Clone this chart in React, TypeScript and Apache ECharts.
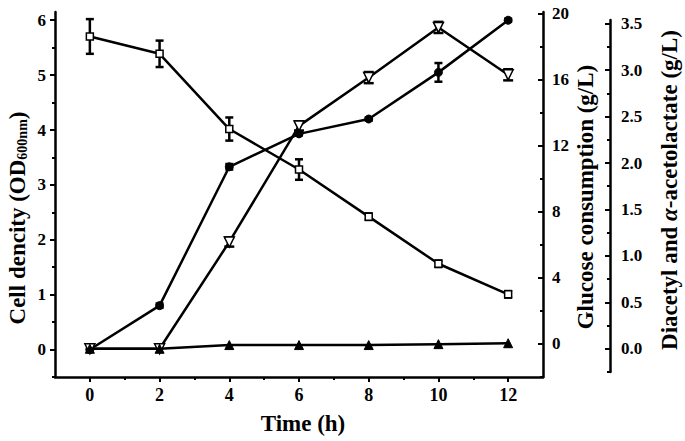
import React, { useEffect, useRef } from "react";
import * as echarts from "echarts";

const times = [0, 2, 4, 6, 8, 10, 12];
const cellDensity = [0, 0.8, 3.33, 3.93, 4.2, 5.05, 6.0];
const cellDensityErr = [0.02, 0.04, 0.05, 0.03, 0.03, 0.17, 0.03];
const glucose = [18.6, 17.55, 13.0, 10.55, 7.7, 4.85, 3.0];
const glucoseErr = [1.05, 0.8, 0.7, 0.62, 0.2, 0.2, 0.2];
const acetolactate = [0, 0, 1.15, 2.4, 2.92, 3.46, 2.95];
const acetolactateErr = [0, 0, 0.05, 0.05, 0.06, 0.06, 0.06];
const diacetyl = [0, 0, 0.04, 0.04, 0.04, 0.05, 0.06];

const xTicks = [0, 2, 4, 6, 8, 10, 12];
const xMinorTicks = [1, 3, 5, 7, 9, 11];
const odTicks = [0, 1, 2, 3, 4, 5, 6];
const odMinorTicks = [-0.5, 0.5, 1.5, 2.5, 3.5, 4.5, 5.5];
const glucoseTicks = [0, 4, 8, 12, 16, 20];
const glucoseMinorTicks = [-2, 2, 6, 10, 14, 18];
const dTicks = [0, 0.5, 1, 1.5, 2, 2.5, 3, 3.5];
const dMinorTicks = [-0.25, 0.25, 0.75, 1.25, 1.75, 2.25, 2.75, 3.25];

const FONT = "Liberation Serif";
const BLACK = "#000";

const lineSt = { color: BLACK, width: 2.5 };
const tickSt = { color: BLACK, width: 2 };

function labelSt(size: number, margin: number, values: number[], fmt?: (v: number) => string) {
  return {
    show: true,
    customValues: values,
    margin,
    color: BLACK,
    fontFamily: FONT,
    fontWeight: "bold",
    fontSize: size,
    formatter: fmt ? (v: number) => fmt(v) : (v: number) => String(v),
  };
}

function mainAxis(extra: any, ticks: number[], inside: boolean, label: any) {
  return {
    type: "value",
    axisLine: { show: true, onZero: false, lineStyle: lineSt },
    axisTick: { show: true, inside, length: 5, lineStyle: tickSt, customValues: ticks },
    axisLabel: label,
    splitLine: { show: false },
    ...extra,
  };
}

function minorAxis(extra: any, ticks: number[], inside: boolean) {
  return {
    type: "value",
    axisLine: { show: false, onZero: false },
    axisTick: { show: true, inside, length: 3, lineStyle: tickSt, customValues: ticks },
    axisLabel: { show: false },
    splitLine: { show: false },
    ...extra,
  };
}

function errorRender(cap: number) {
  return (params: any, api: any) => {
    const x = api.value(0);
    const y = api.value(1);
    const e = api.value(2);
    if (!e) return null;
    const hi = api.coord([x, y + e]);
    const lo = api.coord([x, y - e]);
    const st = { stroke: BLACK, lineWidth: 2.5 };
    return {
      type: "group",
      children: [
        { type: "line", shape: { x1: hi[0], y1: hi[1], x2: lo[0], y2: lo[1] }, style: st },
        { type: "line", shape: { x1: hi[0] - cap / 2, y1: hi[1], x2: hi[0] + cap / 2, y2: hi[1] }, style: st },
        { type: "line", shape: { x1: lo[0] - cap / 2, y1: lo[1], x2: lo[0] + cap / 2, y2: lo[1] }, style: st },
      ],
    };
  };
}

const pairs = (vals: number[]) => times.map((t, i) => [t, vals[i]]);
const triples = (vals: number[], errs: number[]) => times.map((t, i) => [t, vals[i], errs[i]]);

export default function App() {
  const ref = useRef<HTMLDivElement>(null);
  useEffect(() => {
    if (!ref.current) return;
    const chart = echarts.init(ref.current, null, { renderer: "svg" });
    const lineStyle = { color: BLACK, width: 2.5 };
    chart.setOption({
      animation: false,
      backgroundColor: "#fff",
      grid: [
        { left: 55, right: 142, top: 12, bottom: 64 },
        { left: 55, right: 142, top: 20, bottom: 69 },
      ],
      xAxis: [
        mainAxis({ gridIndex: 0, min: -1, max: 13, position: "bottom" }, xTicks, false, labelSt(18, 9, xTicks)),
        minorAxis({ gridIndex: 0, min: -1, max: 13, position: "bottom" }, xMinorTicks, false),
        { type: "value", gridIndex: 1, min: -1, max: 13, show: false },
      ],
      yAxis: [
        mainAxis({ gridIndex: 0, min: -0.5, max: 6.15, position: "left" }, odTicks, false, labelSt(17, 9, odTicks)),
        minorAxis({ gridIndex: 0, min: -0.5, max: 6.15, position: "left" }, odMinorTicks, false),
        mainAxis({ gridIndex: 0, min: -2, max: 20.08, position: "right" }, glucoseTicks, true, labelSt(17, 9, glucoseTicks)),
        minorAxis({ gridIndex: 0, min: -2, max: 20.08, position: "right" }, glucoseMinorTicks, true),
        mainAxis({ gridIndex: 1, min: -0.25, max: 3.54, position: "right", offset: 67 }, dTicks, true,
          labelSt(17, 11, dTicks, (v) => v.toFixed(1))),
        minorAxis({ gridIndex: 1, min: -0.25, max: 3.54, position: "right", offset: 67 }, dMinorTicks, true),
      ],
      series: [
        { type: "custom", xAxisIndex: 0, yAxisIndex: 2, renderItem: errorRender(8), data: triples(glucose, glucoseErr), z: 2 },
        { type: "custom", xAxisIndex: 0, yAxisIndex: 0, renderItem: errorRender(8), data: triples(cellDensity, cellDensityErr), z: 2 },
        { type: "custom", xAxisIndex: 2, yAxisIndex: 4, renderItem: errorRender(10), data: triples(acetolactate, acetolactateErr), z: 2 },
        {
          type: "line", name: "Glucose", xAxisIndex: 0, yAxisIndex: 2, data: pairs(glucose),
          symbol: "rect", symbolSize: 7, showAllSymbol: true,
          itemStyle: { color: "#fff", borderColor: BLACK, borderWidth: 1.5 }, lineStyle, z: 3,
        },
        {
          type: "line", name: "Cell density", xAxisIndex: 0, yAxisIndex: 0, data: pairs(cellDensity),
          symbol: "circle", symbolSize: 8, showAllSymbol: true,
          itemStyle: { color: BLACK, borderColor: BLACK, borderWidth: 1 }, lineStyle, z: 3,
        },
        {
          type: "line", name: "α-acetolactate", xAxisIndex: 2, yAxisIndex: 4, data: pairs(acetolactate),
          symbol: "triangle", symbolRotate: 180, symbolSize: 10, showAllSymbol: true,
          itemStyle: { color: "#fff", borderColor: BLACK, borderWidth: 1.5 }, lineStyle, z: 3,
        },
        {
          type: "line", name: "Diacetyl", xAxisIndex: 2, yAxisIndex: 4, data: pairs(diacetyl),
          symbol: "triangle", symbolSize: 9, showAllSymbol: true,
          itemStyle: { color: BLACK, borderColor: BLACK, borderWidth: 1 }, lineStyle, z: 3,
        },
      ],
      graphic: [
        {
          type: "text", x: 17, y: 218, rotation: Math.PI / 2,
          style: {
            text: "{a|Cell dencity (OD}{b|600nm}{a|)}",
            rich: {
              a: { fontSize: 23, fontWeight: "bold", fontFamily: FONT, fill: BLACK, lineHeight: 24 },
              b: { fontSize: 14, fontWeight: "bold", fontFamily: FONT, fill: BLACK, lineHeight: 4, verticalAlign: "bottom" },
            },
            align: "center", verticalAlign: "middle",
          },
        },
        {
          type: "text", x: 303, y: 423,
          style: { text: "Time (h)", font: `bold 23px "${FONT}"`, fill: BLACK, align: "center", verticalAlign: "middle" },
        },
        {
          type: "text", x: 585, y: 197, rotation: Math.PI / 2,
          style: { text: "Glucose consumption (g/L)", font: `bold 23px "${FONT}"`, fill: BLACK, align: "center", verticalAlign: "middle" },
        },
        {
          type: "text", x: 669, y: 190, rotation: Math.PI / 2,
          style: {
            text: "{a|Diacetyl and }{i|α}{a|-acetolactate (g/L)}",
            rich: {
              a: { fontSize: 23, fontWeight: "bold", fontFamily: FONT, fill: BLACK },
              i: { fontSize: 23, fontWeight: "bold", fontStyle: "italic", fontFamily: FONT, fill: BLACK },
            },
            align: "center", verticalAlign: "middle",
          },
        },
      ],
    });
    return () => chart.dispose();
  }, []);
  return (
    <div
      ref={ref}
      style={{ position: "fixed", left: 0, top: 0, width: 685, height: 441, background: "#fff" }}
    />
  );
}
